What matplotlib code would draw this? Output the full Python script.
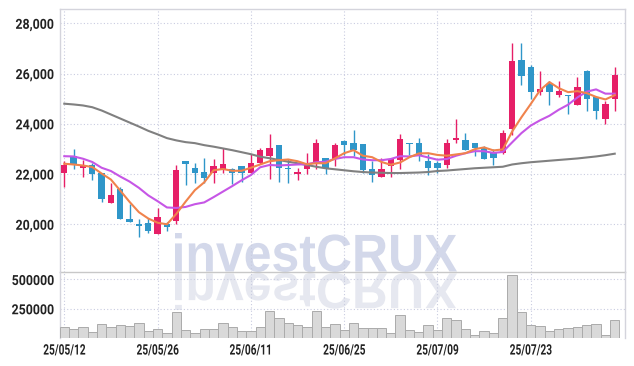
import numpy as np
import pandas as pd
import matplotlib
matplotlib.use('Agg')
import matplotlib.pyplot as plt
from matplotlib.patheffects import AbstractPathEffect
from matplotlib.transforms import Affine2D
from matplotlib.ticker import FuncFormatter

# daily candles (KRW), 2025-05-12 .. 2025-08-05
opens = [22050, 22700, 22250, 22350, 22050, 20850, 21400, 20200, 20000, 20050,
         19600, 20000, 20150, 22500, 22250, 22100, 22050, 22200, 22200, 22300,
         22050, 22450, 22700, 23150, 22250, 22000, 22200, 22450, 22650, 22600,
         23300, 23250, 23200, 22200, 21900, 22300, 22550, 23250, 23250, 22500,
         22450, 22350, 23350, 23350, 23250, 23050, 22850, 22850, 23800, 26550,
         26250, 25250, 25600, 25150, 25150, 24750, 26100, 25050, 24200, 25000]
highs = [22500, 23000, 22550, 22450, 22050, 21650, 21500, 20800, 20200, 20250,
         20650, 20100, 22350, 22500, 22450, 22650, 22600, 23050, 22250, 22300,
         22800, 23050, 23600, 23150, 22600, 22250, 22850, 23400, 22650, 23250,
         23350, 23750, 23200, 22500, 22650, 22650, 23600, 23250, 23450, 22800,
         22500, 23400, 24200, 23650, 23250, 23100, 23000, 23750, 27200, 27200,
         26350, 26100, 25700, 25700, 25150, 25850, 26150, 25050, 24900, 26250]
lows = [21500, 22200, 21900, 21750, 20900, 20850, 20200, 20100, 19500, 19650,
        19600, 19750, 20000, 21550, 21650, 21650, 21650, 22050, 21600, 21700,
        22050, 22400, 21800, 21700, 21650, 21750, 22000, 22200, 22000, 22300,
        22750, 22700, 22050, 21700, 21900, 21900, 22200, 22750, 22500, 21950,
        22050, 22250, 23250, 22950, 22700, 22600, 22350, 22800, 23550, 25550,
        25000, 25150, 24750, 25050, 24400, 24750, 24500, 24200, 24000, 24500]
closes = [22350, 22400, 22350, 22000, 21000, 21150, 20200, 20100, 19950, 19750,
          20300, 19900, 22150, 22400, 22050, 21850, 22300, 22400, 22050, 22050,
          22450, 22950, 23050, 22250, 22200, 22100, 22350, 23250, 22250, 23150,
          23150, 22950, 22150, 21950, 22200, 22600, 23400, 23200, 22700, 22250,
          22250, 23250, 23450, 22950, 23050, 22600, 22650, 23650, 26500, 25900,
          25250, 25400, 25250, 25300, 25100, 25450, 25000, 24500, 24800, 25950]

# moving averages
ma5 = [22410, 22380, 22340, 22280, 22020, 21780, 21340, 20890, 20480, 20230,
       20060, 20000, 20410, 20900, 21360, 21670, 22150, 22200, 22130, 22130,
       22250, 22380, 22510, 22550, 22580, 22510, 22390, 22430, 22430, 22620,
       22830, 22950, 22730, 22670, 22480, 22370, 22460, 22670, 22820, 22830,
       22760, 22730, 22780, 22830, 22990, 23060, 22940, 22980, 23690, 24260,
       24790, 25340, 25660, 25420, 25260, 25300, 25220, 25070, 24970, 25140]
ma10 = [22710, 22700, 22610, 22480, 22250, 22120, 21900, 21700, 21450, 21150,
        20920, 20670, 20650, 20690, 20800, 20870, 21080, 21300, 21520, 21750,
        21960, 22270, 22360, 22340, 22360, 22380, 22390, 22470, 22490, 22600,
        22670, 22670, 22580, 22550, 22550, 22600, 22710, 22700, 22750, 22660,
        22570, 22600, 22730, 22830, 22910, 22910, 22840, 22880, 23260, 23630,
        23930, 24140, 24320, 24560, 24760, 25050, 25280, 25370, 25200, 25200]
ma60 = [24800, 24770, 24730, 24660, 24530, 24370, 24210, 24050, 23890, 23720,
        23580, 23430, 23340, 23270, 23230, 23150, 23090, 23020, 22950, 22870,
        22790, 22690, 22630, 22560, 22490, 22430, 22360, 22290, 22230, 22190,
        22150, 22110, 22080, 22060, 22050, 22040, 22040, 22050, 22060, 22080,
        22120, 22140, 22170, 22200, 22230, 22250, 22270, 22290, 22380, 22430,
        22470, 22500, 22530, 22560, 22590, 22620, 22660, 22700, 22750, 22810]

volumes = [91, 76, 91, 49, 122, 91, 110, 104, 128, 58,
           80, 45, 225, 65, 45, 80, 80, 125, 90, 63,
           63, 98, 232, 170, 125, 107, 98, 232, 98, 116,
           71, 125, 89, 89, 89, 45, 196, 71, 54, 107,
           71, 170, 152, 73, 27, 64, 40, 174, 540, 220,
           110, 101, 64, 73, 82, 91, 110, 119, 27, 155]
volumes = [v * 1000 for v in volumes]

price_ticks = [20000, 22000, 24000, 26000, 28000]
volume_ticks = [250000, 500000]

# KRX trading days (6/3 election, 6/6 memorial day closed)
dates = pd.bdate_range('2025-05-12', periods=len(closes), freq='C',
                       holidays=['2025-06-03', '2025-06-06'])
label_idx = list(range(0, len(dates), 10))
date_labels = [dates[i].strftime('%y/%m/%d') for i in label_idx]

UP = '#e61f67'
DOWN = '#2f96c9'
GRID = '#c9cce0'
FRAME = '#d4d4dc'
LABEL_FONT = ['Roboto', 'DejaVu Sans']


class Squeeze(AbstractPathEffect):
    # narrow the text horizontally (the chart uses a condensed face)
    def __init__(self, sx, anchor='center'):
        super().__init__()
        self.sx = sx
        self.anchor = anchor

    def draw_path(self, renderer, gc, tpath, affine, rgbFace=None):
        ext = tpath.get_extents(affine)
        if self.anchor == 'right':
            ref = ext.x1
        elif self.anchor == 'left':
            ref = ext.x0
        else:
            ref = (ext.x0 + ext.x1) / 2
        t = affine + Affine2D().translate(-ref, 0).scale(self.sx, 1).translate(ref, 0)
        renderer.draw_path(gc, tpath, t, rgbFace)


class FitBox(AbstractPathEffect):
    # stretch the text into a pixel box, optionally mirrored (reflection)
    def __init__(self, box, flip=False):
        super().__init__()
        self.box = box
        self.flip = flip

    def draw_path(self, renderer, gc, tpath, affine, rgbFace=None):
        ext = tpath.get_extents(affine)
        x0, y0, x1, y1 = self.box
        sx = (x1 - x0) / ext.width
        sy = (y1 - y0) / ext.height
        t = affine + Affine2D().translate(-ext.x0, -ext.y0)
        if self.flip:
            t = t + Affine2D().scale(sx, -sy).translate(x0, y1)
        else:
            t = t + Affine2D().scale(sx, sy).translate(x0, y0)
        renderer.draw_path(gc, tpath, t, rgbFace)


W, H = 634, 366
fig = plt.figure(figsize=(W / 100, H / 100), dpi=100)
fig.patch.set_facecolor('white')

# axes boxes in pixels (left, top, right, bottom)
def box(l, t, r, b):
    return [l / W, (H - b) / H, (r - l) / W, (b - t) / H]

ax = fig.add_axes(box(60, 9, 625, 272))
axv = fig.add_axes(box(60, 272, 625, 338), sharex=ax)
for a in (ax, axv):
    a.set_facecolor('none')

# watermark + reflection behind the axes (pixel boxes, y from bottom)
wm_font = ['Liberation Sans', 'DejaVu Sans']
fig.text(175 / W, (H - 262) / H, 'investCRUX', fontsize=9, fontweight='bold',
         family=wm_font, color='#d3d8ea', zorder=-5,
         path_effects=[FitBox((175, H - 272, 457, H - 233))])
fig.text(175 / W, (H - 282) / H, 'investCRUX', fontsize=9, fontweight='bold',
         family=wm_font, color='#e6e8f0', zorder=-5, va='top',
         path_effects=[FitBox((175, H - 310, 457, H - 273), flip=True)])

x = np.arange(len(closes))
o = np.array(opens)
c = np.array(closes)
colors = [UP if cc >= oo else DOWN for oo, cc in zip(o, c)]

# wicks and bodies
ax.vlines(x, lows, highs, colors=colors, linewidth=1.0, zorder=3)
body_low = np.minimum(o, c)
body_h = np.maximum(np.abs(c - o), 40)
ax.bar(x, body_h, bottom=body_low, width=0.68, color=colors, linewidth=0, zorder=3)

ax.plot(x, ma60, color='#808080', linewidth=1.5, zorder=4)
ax.plot(x, ma10, color='#c656e6', linewidth=1.5, zorder=4)
ax.plot(x, ma5, color='#f0834c', linewidth=1.5, zorder=5)

axv.bar(x, volumes, width=1.0, color='#d9d9d9', edgecolor='#ababab', linewidth=0.7, zorder=3)

ax.set_xlim(-0.46, 60.1)
ax.set_ylim(18100, 28570)
axv.set_ylim(0, 564000)

ax.set_yticks(price_ticks)
ax.yaxis.set_major_formatter(FuncFormatter(lambda v, p: f'{v:,.0f}'))
axv.set_yticks(volume_ticks)
axv.yaxis.set_major_formatter(FuncFormatter(lambda v, p: f'{v:.0f}'))
axv.set_xticks(label_idx)
axv.set_xticklabels(date_labels)
ax.tick_params(axis='x', labelbottom=False)

for a in (ax, axv):
    a.grid(True, color=GRID, linestyle=(0, (1, 2)), linewidth=0.8, zorder=0)
    a.set_axisbelow(True)
    a.tick_params(length=0, pad=4.5, labelsize=10, labelcolor='#222222')
    for lab in a.get_yticklabels():
        lab.set_family(LABEL_FONT)
        lab.set_fontweight('bold')
        lab.set_path_effects([Squeeze(0.89, 'right')])
    for s in a.spines.values():
        s.set_color(FRAME)
        s.set_linewidth(1.0)

for lab in axv.get_xticklabels():
    lab.set_family(LABEL_FONT)
    lab.set_fontweight('bold')
    lab.set_fontsize(10.4)
    lab.set_path_effects([Squeeze(0.70, 'center')])

ax.spines['bottom'].set_color('#c8c8c8')
axv.spines['top'].set_visible(False)
axv.spines['bottom'].set_visible(False)
axv.tick_params(axis='x', pad=4)

fig.savefig('out.png', dpi=100, facecolor='white')
